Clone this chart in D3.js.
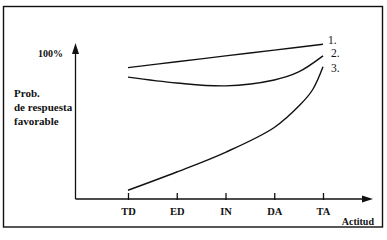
<!DOCTYPE html>
<html>
<head>
<meta charset="utf-8">
<script src="https://cdn.jsdelivr.net/npm/d3@7"></script>
<style>
  body { margin: 0; background: #fff; }
  svg { display: block; }
</style>
</head>
<body>
<div id="chart"></div>
<script>
// categories on the attitude axis
const categories = ['TD', 'ED', 'IN', 'DA', 'TA'];
// x is category index (fractional where the curve needs more points)
const serie1X = [0, 1, 2, 3, 4];
const serie1Y = [90, 94, 98, 102, 106];
const serie2X = [0, 1, 2, 3, 3.5, 4];
const serie2Y = [83.5, 79.5, 77.5, 81.5, 87, 98];
const serie3X = [0, 1, 2, 3, 3.53, 3.79, 4];
const serie3Y = [6, 18.5, 32, 49, 64.5, 75, 90.5];
const serieLabels = ['1.', '2.', '3.'];
const yLabel = ['Prob.', 'de respuesta', 'favorable'];

const width = 387, height = 240;
const serif = '"Liberation Serif", "DejaVu Serif", "Times New Roman", serif';

const x = d3.scaleLinear()
      .domain([0, categories.length - 1])
      .range([128, 323]);
const y = d3.scaleLinear()
      .domain([0, 100])
      .range([199, 53]);

const svg = d3.select('#chart').append('svg')
      .attr('width', width)
      .attr('height', height)
      .style('font-family', serif);

// frame
svg.append('rect')
  .attr('x', 3.5).attr('y', 6.5)
  .attr('width', 379).attr('height', 220.5)
  .attr('fill', 'none')
  .attr('stroke', '#111')
  .attr('stroke-width', 1.4);

const axisX0 = 75.5;

// y axis with arrow
svg.append('line')
  .attr('x1', axisX0).attr('x2', axisX0)
  .attr('y1', y(0)).attr('y2', 50)
  .attr('stroke', '#111').attr('stroke-width', 1.3);
svg.append('path')
  .attr('d', `M${axisX0},43 L${axisX0 - 3.5},54 L${axisX0 + 3.5},54 Z`)
  .attr('fill', '#111');

// x axis
const xAxis = d3.axisBottom(x)
      .tickValues(d3.range(categories.length))
      .tickFormat(i => categories[i])
      .tickSizeInner(0)
      .tickSizeOuter(0)
      .tickPadding(9);

const gx = svg.append('g')
      .attr('transform', `translate(0,${y(0)})`)
      .call(xAxis)
      .attr('font-family', serif)
      .attr('font-size', 10.5);
gx.select('.domain').remove();
gx.selectAll('.tick line')
  .attr('y1', -6).attr('y2', 1)
  .attr('stroke', '#111').attr('stroke-width', 1.3);
gx.selectAll('.tick text')
  .attr('font-weight', 'bold')
  .attr('fill', '#111')
  .style('font-family', serif);

svg.append('line')
  .attr('x1', axisX0).attr('x2', 366)
  .attr('y1', y(0)).attr('y2', y(0))
  .attr('stroke', '#111').attr('stroke-width', 1.3);
svg.append('path')
  .attr('d', `M373,${y(0)} L362,${y(0) - 3.5} L362,${y(0) + 3.5} Z`)
  .attr('fill', '#111');

// curves
const line = d3.line()
      .x(d => x(d[0]))
      .y(d => y(d[1]))
      .curve(d3.curveCatmullRom.alpha(0.5));

const series = [
  d3.zip(serie1X, serie1Y),
  d3.zip(serie2X, serie2Y),
  d3.zip(serie3X, serie3Y)
];

svg.selectAll('.serie')
  .data(series)
  .enter()
  .append('path')
  .attr('class', 'serie')
  .attr('d', line)
  .attr('fill', 'none')
  .attr('stroke', '#111')
  .attr('stroke-width', 1.4);

const labelDy = [0, 1, 5];
svg.selectAll('.serie-label')
  .data(series)
  .enter()
  .append('text')
  .attr('class', 'serie-label')
  .attr('x', (d, i) => x(d[d.length - 1][0]) + (i === 0 ? 5 : 8))
  .attr('y', (d, i) => y(d[d.length - 1][1]) + labelDy[i])
  .attr('font-size', 11.5)
  .attr('fill', '#111')
  .style('font-family', serif)
  .text((d, i) => serieLabels[i]);

// labels
svg.append('text')
  .attr('x', 38).attr('y', 56.5)
  .attr('font-size', 10)
  .attr('font-weight', 'bold')
  .attr('fill', '#111')
  .style('font-family', serif)
  .text('100%');

svg.selectAll('.ylabel')
  .data(yLabel)
  .enter()
  .append('text')
  .attr('class', 'ylabel')
  .attr('x', 14)
  .attr('y', (d, i) => 96.5 + i * 14)
  .attr('font-size', 11)
  .attr('font-weight', 'bold')
  .attr('fill', '#111')
  .style('font-family', serif)
  .text(d => d);

svg.append('text')
  .attr('x', 374).attr('y', 225)
  .attr('text-anchor', 'end')
  .attr('font-size', 10)
  .attr('font-weight', 'bold')
  .attr('fill', '#111')
  .style('font-family', serif)
  .text('Actitud');
</script>
</body>
</html>
